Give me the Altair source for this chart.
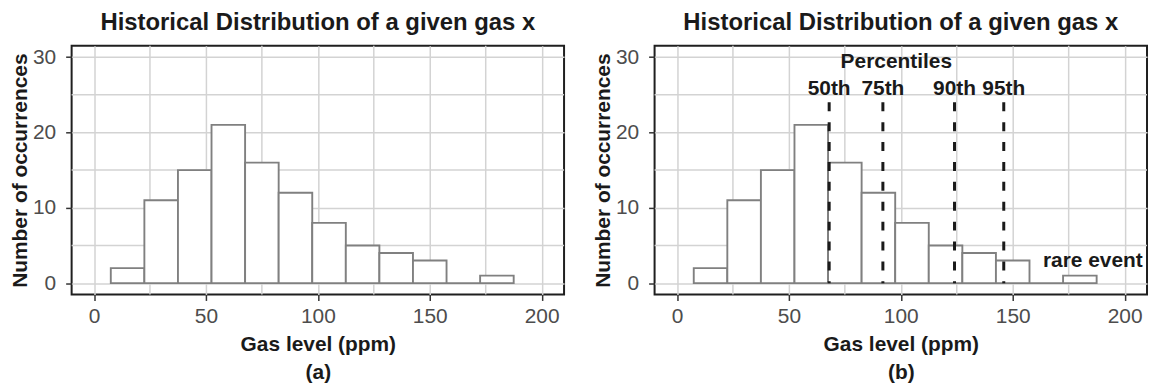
import altair as alt
import pandas as pd

# ---- data ----
bin_start = [7.5, 22.5, 37.5, 52.5, 67.5, 82.5, 97.5, 112.5, 127.5, 142.5, 157.5, 172.5]
bin_end = [22.5, 37.5, 52.5, 67.5, 82.5, 97.5, 112.5, 127.5, 142.5, 157.5, 172.5, 187.5]
counts = [2, 11, 15, 21, 16, 12, 8, 5, 4, 3, 0, 1]

pct_labels = ["50th", "75th", "90th", "95th"]
pct_values = [68, 92, 124, 146]
pct_line_top = 24
pct_label_y = 25.7

x_ticks = [0, 50, 100, 150, 200]
y_ticks = [0, 10, 20, 30]
x_minor = [25, 75, 125, 175]
y_minor = [5, 15, 25]

TITLE = "Historical Distribution of a given gas x"
FONT = "Liberation Sans"

hist = pd.DataFrame({"start": bin_start, "end": bin_end, "count": counts,
                     "base": [0] * len(counts)})
pct = pd.DataFrame({"label": pct_labels, "x": pct_values,
                    "ytop": [pct_line_top] * 4, "ylab": [pct_label_y] * 4,
                    "base": [0] * 4})
xm = pd.DataFrame({"x": x_minor})
ym = pd.DataFrame({"y": y_minor})

xscale = alt.Scale(domain=[-10, 210], nice=False, zero=False)
yscale = alt.Scale(domain=[-1.5, 31.5], nice=False, zero=False)

GRID = "#d3d3d3"


def panel(tag, annotated):
    xaxis = alt.Axis(values=x_ticks, title=["Gas level (ppm)", tag],
                     titleLineHeight=28, titlePadding=7, labelPadding=5)
    yaxis = alt.Axis(values=y_ticks, title="Number of occurrences",
                     titlePadding=2, labelPadding=10)
    bars = alt.Chart(hist).mark_rect(fill="white", stroke="#808080", strokeWidth=1.9).encode(
        x=alt.X("start:Q", scale=xscale, axis=xaxis),
        x2="end:Q",
        y=alt.Y("count:Q", scale=yscale, axis=yaxis),
        y2="base:Q",
    )
    minor_x = alt.Chart(xm).mark_rule(color=GRID, strokeWidth=1.5).encode(
        x=alt.X("x:Q", scale=xscale, axis=xaxis))
    minor_y = alt.Chart(ym).mark_rule(color=GRID, strokeWidth=1.5).encode(
        y=alt.Y("y:Q", scale=yscale, axis=yaxis))
    layers = [minor_x, minor_y, bars]
    if annotated:
        lines = alt.Chart(pct).mark_rule(color="#1a1a1a", strokeWidth=3,
                                         strokeDash=[9, 11]).encode(
            x=alt.X("x:Q", scale=xscale, axis=xaxis),
            y=alt.Y("ytop:Q", scale=yscale, axis=yaxis), y2="base:Q")
        labels = alt.Chart(pct).mark_text(font=FONT, fontSize=21, fontWeight="bold",
                                          color="#1a1a1a", baseline="middle").encode(
            x=alt.X("x:Q", scale=xscale, axis=xaxis),
            y=alt.Y("ylab:Q", scale=yscale, axis=yaxis), text="label:N")
        head = alt.Chart(pd.DataFrame({"t": ["Percentiles"], "x": [98], "y": [29.3]})).mark_text(
            font=FONT, fontSize=21, fontWeight="bold", color="#1a1a1a",
            baseline="middle").encode(
            x=alt.X("x:Q", scale=xscale, axis=xaxis),
            y=alt.Y("y:Q", scale=yscale, axis=yaxis), text="t:N")
        rare = alt.Chart(pd.DataFrame({"t": ["rare event"], "x": [185.8], "y": [3.0]})).mark_text(
            font=FONT, fontSize=21, fontWeight="bold", color="#1a1a1a",
            baseline="middle").encode(
            x=alt.X("x:Q", scale=xscale, axis=xaxis),
            y=alt.Y("y:Q", scale=yscale, axis=yaxis), text="t:N")
        layers += [lines, labels, head, rare]
    return alt.layer(*layers).properties(
        width=495, height=250,
        title=alt.TitleParams(TITLE, fontSize=24, fontWeight="bold", font=FONT,
                              color="#1a1a1a", offset=10, anchor="middle"))


chart = alt.hconcat(panel("(a)", False), panel("(b)", True), spacing=25).properties(
    padding={"left": 8, "top": 9, "right": 0, "bottom": 0}
).configure(
    background="white"
).configure_view(
    stroke="#1f1f1f", strokeWidth=2
).configure_axis(
    domain=False, grid=True, gridColor=GRID, gridWidth=1.5,
    ticks=True, tickColor="#333333", tickWidth=1.5, tickSize=6,
    labelFont=FONT, labelFontSize=21, labelColor="#4d4d4d",
    titleFont=FONT, titleFontSize=21, titleFontWeight="bold", titleColor="#1a1a1a",
)

chart.save("out.html", embed_options={"renderer": "svg", "actions": False})
